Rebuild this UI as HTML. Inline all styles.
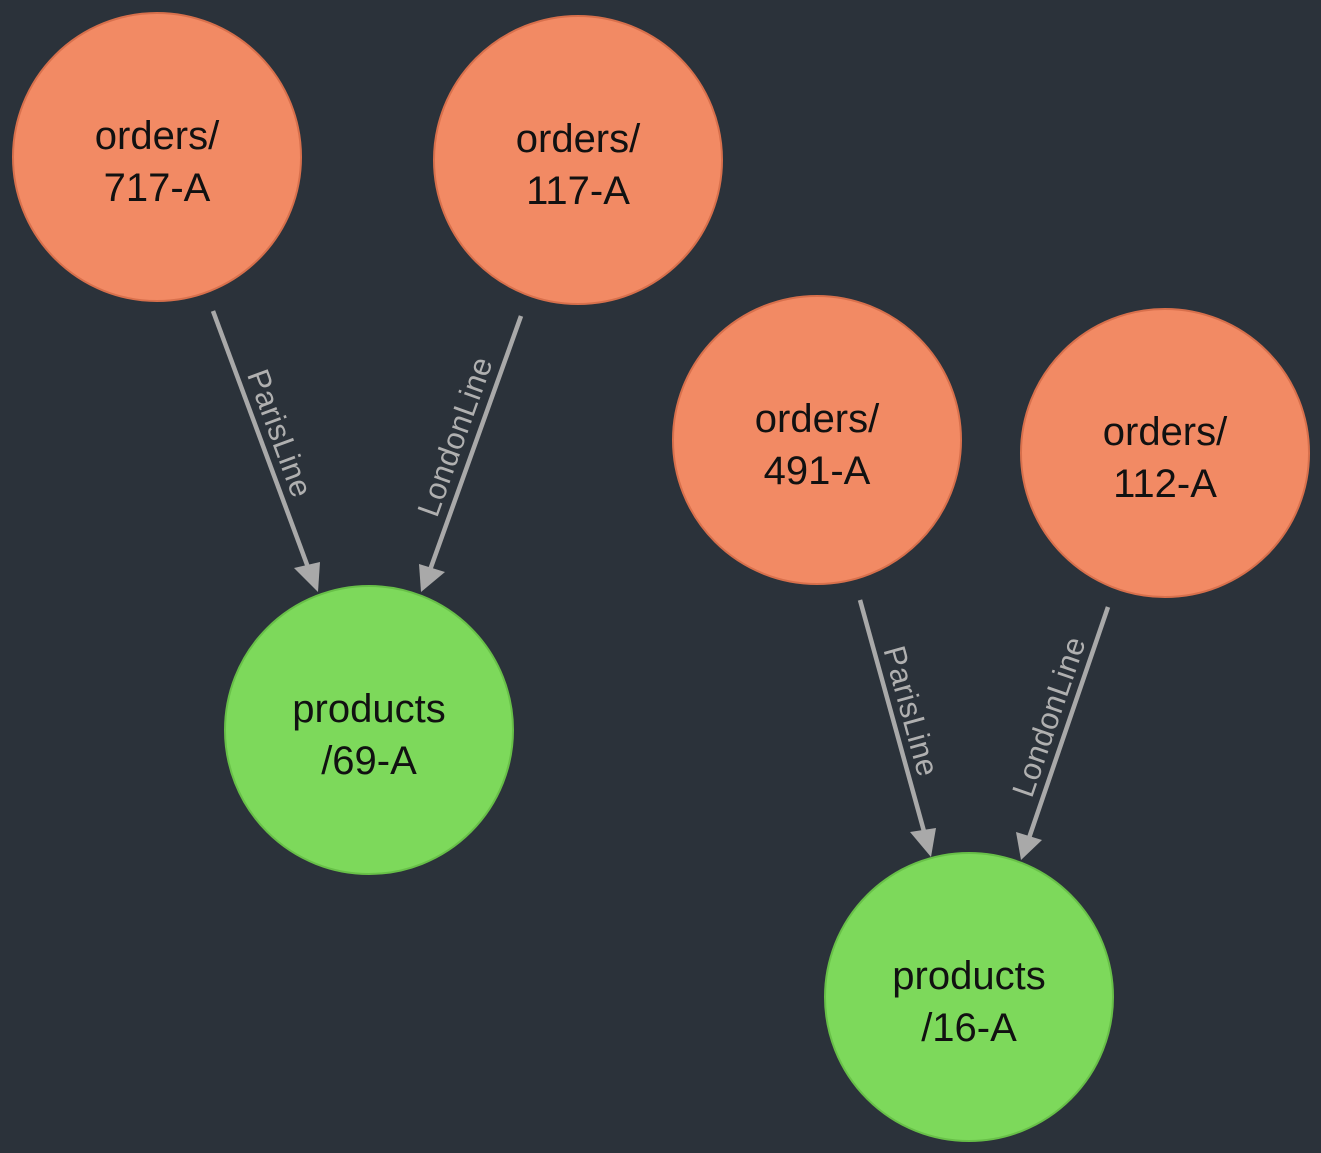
<!DOCTYPE html>
<html><head><style>
html,body{margin:0;padding:0;background:#2b323a;}
svg{display:block;}
</style></head><body>
<svg width="1321" height="1153" viewBox="0 0 1321 1153" xmlns="http://www.w3.org/2000/svg" font-family="Liberation Sans, sans-serif">
<rect width="1321" height="1153" fill="#2b323a"/>
<g stroke="#a9a9a9" stroke-width="4.5" fill="none">
<line x1="213" y1="311" x2="309" y2="570"/>
<line x1="521" y1="316" x2="430" y2="570"/>
<line x1="860" y1="600" x2="925" y2="835"/>
<line x1="1108" y1="607" x2="1029" y2="838"/>
</g>
<g fill="#a9a9a9">
<polygon points="318,592 294,568 320,562"/>
<polygon points="421,592 419,564 445,572"/>
<polygon points="931,857 910,832 936,828"/>
<polygon points="1021,860 1016,832 1042,840"/>
</g>
<g fill="#b0b0b0" font-size="31" text-anchor="middle" letter-spacing="0.5">
<text transform="translate(270,437) rotate(69.7)">ParisLine</text>
<text transform="translate(465,440) rotate(-70.3)">LondonLine</text>
<text transform="translate(901,714) rotate(74.6)">ParisLine</text>
<text transform="translate(1059,720) rotate(-71)">LondonLine</text>
</g>
<g fill="#f28a64" stroke="#d8704c" stroke-width="2">
<circle cx="157" cy="157" r="144"/>
<circle cx="578" cy="160" r="144"/>
<circle cx="817" cy="440" r="144"/>
<circle cx="1165" cy="453" r="144"/>
</g>
<g fill="#7dd95b" stroke="#68c048" stroke-width="2">
<circle cx="369" cy="730" r="144"/>
<circle cx="969" cy="997" r="144"/>
</g>
<g fill="#111" font-size="40" text-anchor="middle">
<text x="157" y="149">orders/</text><text x="157" y="201">717-A</text>
<text x="578" y="152">orders/</text><text x="578" y="204">117-A</text>
<text x="817" y="432">orders/</text><text x="817" y="484">491-A</text>
<text x="1165" y="445">orders/</text><text x="1165" y="497">112-A</text>
<text x="369" y="722">products</text><text x="369" y="774">/69-A</text>
<text x="969" y="989">products</text><text x="969" y="1041">/16-A</text>
</g>
</svg>
</body></html>
